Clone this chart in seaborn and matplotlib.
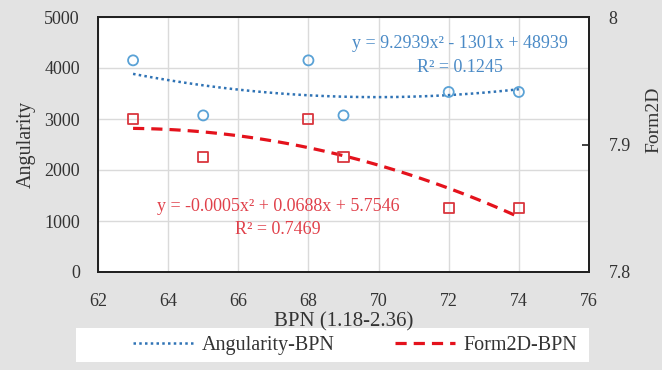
import numpy as np
import pandas as pd
import matplotlib
matplotlib.use("Agg")
import matplotlib.pyplot as plt
from matplotlib.lines import Line2D
from matplotlib.patches import Rectangle
import seaborn as sns

# ---- data ----
bpn = [63, 65, 68, 69, 72, 74]
angularity = [4150, 3070, 4150, 3070, 3530, 3530]
form2d = [7.92, 7.89, 7.92, 7.89, 7.85, 7.85]
x_ticks = [62, 64, 66, 68, 70, 72, 74, 76]
y_ticks = [0, 1000, 2000, 3000, 4000, 5000]
y2_ticks = [7.8, 7.9, 8.0]
y2_labels = ["7.8", "7.9", "8"]
eq_ang = ["y = 9.2939x² - 1301x + 48939", "R² = 0.1245"]
eq_form = ["y = -0.0005x² + 0.0688x + 5.7546", "R² = 0.7469"]
legend_labels = ["Angularity-BPN", "Form2D-BPN"]

df = pd.DataFrame({"bpn": bpn, "ang": angularity, "form": form2d})

sns.set_style("white")
plt.rcParams["font.family"] = ["Liberation Serif", "DejaVu Serif"]

BLUE_M = "#5aa2d6"
BLUE_L = "#2f73b5"
BLUE_T = "#4a8ac6"
RED_M = "#d9363e"
RED_L = "#e4121c"
RED_T = "#e0404a"
TXT = "#333333"

W, H = 662, 370
fig = plt.figure(figsize=(W / 100, H / 100), dpi=100)
fig.patch.set_facecolor("#e3e3e3")

L, R, T, B = 98, 589, 17, 272
ax = fig.add_axes([L / W, (H - B) / H, (R - L) / W, (B - T) / H])
ax.set_facecolor("white")
ax2 = ax.twinx()

# Angularity
sns.scatterplot(data=df, x="bpn", y="ang", ax=ax, marker="o", s=52,
                facecolor="none", edgecolor=BLUE_M, linewidth=1.3, zorder=3)
pts = ax.collections[-1]
pts.set_facecolor("none")
pts.set_edgecolor(BLUE_M)
sns.regplot(data=df, x="bpn", y="ang", ax=ax, order=2, ci=None, scatter=False,
            color=BLUE_L, line_kws=dict(linestyle=(0, (1, 1.3)), linewidth=1.8))

# Form2D
sns.scatterplot(data=df, x="bpn", y="form", ax=ax2, marker="s", s=52,
                facecolor="none", edgecolor=RED_M, linewidth=1.3, zorder=3)
pts2 = ax2.collections[-1]
pts2.set_facecolor("none")
pts2.set_edgecolor(RED_M)
sns.regplot(data=df, x="bpn", y="form", ax=ax2, order=2, ci=None, scatter=False,
            color=RED_L, line_kws=dict(linestyle=(0, (3.5, 2.2)), linewidth=2.3))

ax.set_xlim(62, 76)
ax.set_ylim(0, 5000)
ax2.set_ylim(7.8, 8.0)
ax.set_xticks(x_ticks)
ax.set_xticklabels([str(v) for v in x_ticks])
ax.set_yticks(y_ticks)
ax.set_yticklabels([str(v) for v in y_ticks])
ax2.set_yticks(y2_ticks)
ax2.set_yticklabels(y2_labels)

ax.set_axisbelow(True)
ax.grid(True, color="#dadada", linewidth=1.0)
ax2.grid(False)

ax.tick_params(axis="both", length=0, labelsize=13, labelcolor=TXT)
ax.tick_params(axis="x", pad=15)
ax.tick_params(axis="y", pad=13)
ax2.tick_params(axis="y", direction="in", length=5, width=1.2, color="#222222",
                labelsize=13, labelcolor=TXT, pad=14)

for a in (ax, ax2):
    for s in a.spines.values():
        s.set_color("#222222")
        s.set_linewidth(1.4)

ax.set_xlabel("BPN (1.18-2.36)", fontsize=15, color=TXT, labelpad=2)
ax.set_ylabel("Angularity", fontsize=14.5, color=TXT, labelpad=6)
ax2.set_ylabel("Form2D", fontsize=14, color=TXT)
ax2.yaxis.set_label_coords(1.115, 0.596)

# equations
fig.text(460 / W, 1 - 43 / H, eq_ang[0], ha="center", va="center", fontsize=13, color=BLUE_T)
fig.text(460 / W, 1 - 68 / H, eq_ang[1], ha="center", va="center", fontsize=13, color=BLUE_T)
fig.text(278 / W, 1 - 207 / H, eq_form[0], ha="center", va="center", fontsize=13, color=RED_T)
fig.text(278 / W, 1 - 230 / H, eq_form[1], ha="center", va="center", fontsize=13, color=RED_T)

# legend
fig.add_artist(Rectangle((76 / W, 1 - 362 / H), 513 / W, 34 / H, transform=fig.transFigure,
                         facecolor="white", edgecolor="none", zorder=0))
handles = [Line2D([], [], color=BLUE_L, linestyle=(0, (1, 1.3)), linewidth=1.8),
           Line2D([], [], color=RED_L, linestyle=(0, (3.5, 2.2)), linewidth=2.3)]
fig.legend(handles, legend_labels, loc="center", bbox_to_anchor=(355 / W, 1 - 345 / H),
           ncol=2, frameon=False, handlelength=3.0, columnspacing=3.0,
           handletextpad=0.4, fontsize=14.5, labelcolor=TXT)

fig.savefig("out.png", dpi=100, facecolor=fig.get_facecolor())
